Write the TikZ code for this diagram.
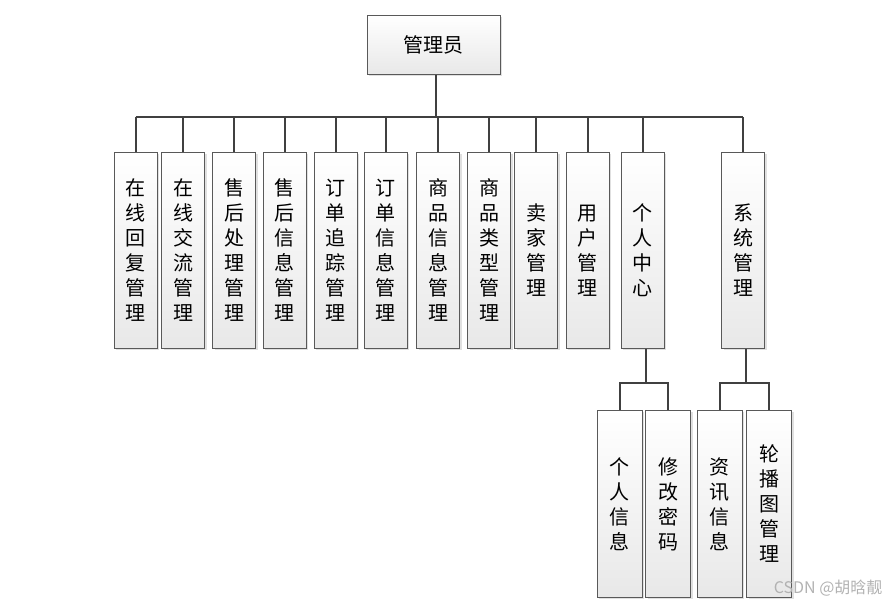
\documentclass[tikz,border=0pt]{standalone}
\usepackage{fontspec}
\setmainfont{Noto Sans CJK SC}
\usetikzlibrary{shadows}

\tikzset{
  modbox/.style={draw=black!65, line width=0.8pt, top color=white, bottom color=black!9,
    minimum width=43pt, minimum height=196pt, inner sep=0pt, anchor=north, align=center,
    font=\fontsize{20}{25}\selectfont,
    drop shadow={shadow xshift=2pt, shadow yshift=-2pt, fill=black!20, opacity=0.6}},
  subbox/.style={modbox, minimum width=45pt, minimum height=187pt},
  link/.style={draw=black!75, line width=2pt}
}

\begin{document}
\begin{tikzpicture}[x=1pt, y=-1pt]
\useasboundingbox (0,0) rectangle (890,604);
% administrator module tree
\node[modbox, minimum width=133pt, minimum height=59pt] (admin) at (433.5,15) {管理员};

\node[modbox] (hf) at (135.5,152) {在\\线\\回\\复\\管\\理};
\node[modbox] (jl) at (183,152) {在\\线\\交\\流\\管\\理};
\node[modbox] (shcl) at (234,152) {售\\后\\处\\理\\管\\理};
\node[modbox] (shxx) at (284.5,152) {售\\后\\信\\息\\管\\理};
\node[modbox] (ddzz) at (335.5,152) {订\\单\\追\\踪\\管\\理};
\node[modbox] (ddxx) at (385.5,152) {订\\单\\信\\息\\管\\理};
\node[modbox] (spxx) at (438,152) {商\\品\\信\\息\\管\\理};
\node[modbox] (splx) at (489,152) {商\\品\\类\\型\\管\\理};
\node[modbox] (mj) at (536,152) {卖\\家\\管\\理};
\node[modbox] (yh) at (587.5,152) {用\\户\\管\\理};
\node[modbox] (grzx) at (642.5,152) {个\\人\\中\\心};
\node[modbox] (xt) at (743,152) {系\\统\\管\\理};

\node[subbox] (grxx) at (619.5,410) {个\\人\\信\\息};
\node[subbox] (xgmm) at (668,410) {修\\改\\密\\码};
\node[subbox] (zxxx) at (719.5,410) {资\\讯\\信\\息};
\node[subbox] (lbt) at (769,410) {轮\\播\\图\\管\\理};

\coordinate (bus) at (0,117);
\coordinate (busa) at (0,383);

\draw[link] ([xshift=2.5pt]admin.south) -- ([xshift=2.5pt]admin.south |- bus);
\draw[link] (hf.north |- bus) -- (xt.north |- bus);
\foreach \m in {hf,jl,shcl,shxx,ddzz,ddxx,spxx,splx,mj,yh,grzx,xt}
  \draw[link] (\m.north) -- (\m.north |- bus);

\draw[link] ([xshift=3pt]grzx.south) -- ([xshift=3pt]grzx.south |- busa);
\draw[link] (grxx.north) -- (grxx.north |- busa) -- (xgmm.north |- busa) -- (xgmm.north);
\draw[link] ([xshift=3pt]xt.south) -- ([xshift=3pt]xt.south |- busa);
\draw[link] (zxxx.north) -- (zxxx.north |- busa) -- (lbt.north |- busa) -- (lbt.north);

\node[text=black!30, font=\fontsize{16}{18}\selectfont, anchor=east] (mark) at (886,588) {CSDN @胡晗靓};
\end{tikzpicture}
\end{document}
